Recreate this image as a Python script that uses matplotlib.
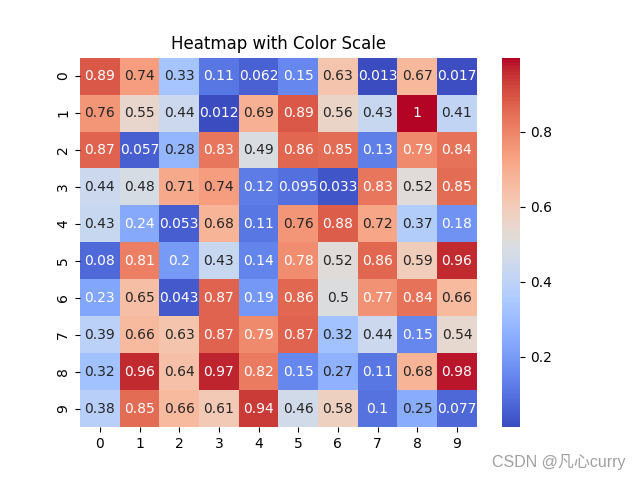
import matplotlib
matplotlib.use("Agg")
import matplotlib.pyplot as plt
import seaborn as sns
import numpy as np

row0 = [0.89, 0.74, 0.33, 0.11, 0.062, 0.15, 0.63, 0.013, 0.67, 0.017]
row1 = [0.76, 0.55, 0.44, 0.012, 0.69, 0.89, 0.56, 0.43, 0.998, 0.41]
row2 = [0.87, 0.057, 0.28, 0.83, 0.49, 0.86, 0.85, 0.13, 0.79, 0.84]
row3 = [0.44, 0.48, 0.71, 0.74, 0.12, 0.095, 0.033, 0.83, 0.52, 0.85]
row4 = [0.43, 0.24, 0.053, 0.68, 0.11, 0.76, 0.88, 0.72, 0.37, 0.18]
row5 = [0.08, 0.81, 0.2, 0.43, 0.14, 0.78, 0.52, 0.86, 0.59, 0.96]
row6 = [0.23, 0.65, 0.043, 0.87, 0.19, 0.86, 0.5, 0.77, 0.84, 0.66]
row7 = [0.39, 0.66, 0.63, 0.87, 0.79, 0.87, 0.32, 0.44, 0.15, 0.54]
row8 = [0.32, 0.96, 0.64, 0.97, 0.82, 0.15, 0.27, 0.11, 0.68, 0.98]
row9 = [0.38, 0.85, 0.66, 0.61, 0.94, 0.46, 0.58, 0.1, 0.25, 0.077]

data = np.array([row0, row1, row2, row3, row4, row5, row6, row7, row8, row9])

fig = plt.figure(figsize=(6.4, 4.8), dpi=100)
ax = sns.heatmap(data, annot=True, cmap='coolwarm')
plt.title('Heatmap with Color Scale')

# watermark
fig.text(0.977, 0.038, 'CSDN @凡心curry', ha='right', va='center',
         fontsize=11.5, color='#a0a0a0',
         family=['Liberation Sans', 'Noto Sans CJK SC', 'DejaVu Sans'])

plt.savefig('out.png')
